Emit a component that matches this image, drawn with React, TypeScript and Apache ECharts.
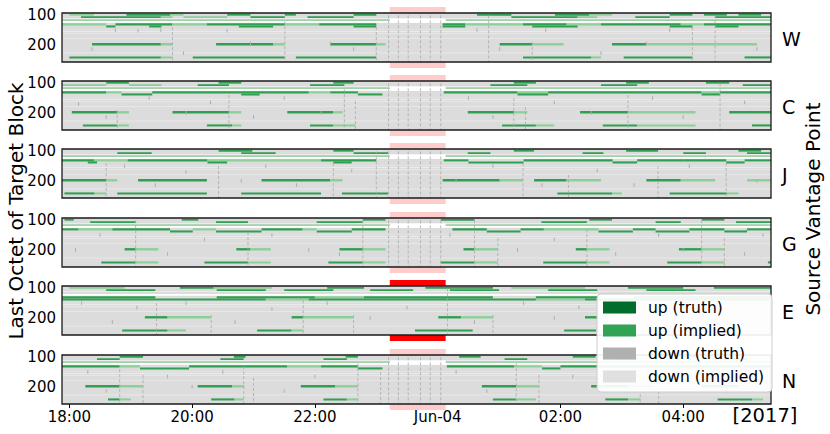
import React, { useEffect, useRef } from "react";
import * as echarts from "echarts";

// ---- axes ----
const X_MIN = -0.12; // hours after 18:00 (17:53)
const X_MAX = 11.43; // 05:26
const X_TICKS = [0, 2, 4, 6, 8, 10];
const X_LABELS = ["18:00", "20:00", "22:00", "Jun-04", "02:00", "04:00"];
const Y_MIN = 92;
const Y_MAX = 258;
const Y_TICKS = [100, 200];
const PANELS = ["W", "C", "J", "G", "E", "N"];
const OUTAGE = [5.22, 6.13];
const OUTAGE_PANEL = "E";
const YEAR_LABEL = "[2017]";
const Y_TITLE = "Last Octet of Target Block";
const R_TITLE = "Source Vantage Point";
const LEGEND_ITEMS = ["up (truth)", "up (implied)", "down (truth)", "down (implied)"];

// ---- row octet ranges ----
const ROW_A = [95, 101];
const ROW_B = [103, 109];
const ROW_LIGHT = [114, 118];
const ROW_WHITE = [119, 125];
const ROW_T1 = [127, 134];
const ROW_T2 = [134, 141];
const ROW_M = [194, 202];
const ROW_LO = [239, 246];
const BAND_WHITE = [111, 125];
const STRIPES = [[110, 112], [146, 147], [154, 156], [161, 162], [177, 178], [227, 228]];
const LIGHT_LINE = [[-0.12, 5.3], [6.1, 11.43]];
const BAND_DASH_T = [5.2, 5.36, 5.52, 5.72, 5.88, 6.05];

// kind: 0 up truth, 1 up implied, 2 up implied (faded)
// ---- W ----
const W_A = [[0.0, 0.4, 2], [0.93, 1.64, 1], [1.64, 1.86, 2], [2.57, 2.95, 1], [3.51, 3.69, 1], [4.63, 5.0, 1], [6.64, 7.2, 1], [7.91, 8.47, 1], [8.47, 8.84, 2], [9.78, 10.15, 1], [10.34, 10.71, 1], [10.9, 11.27, 1]];
const W_B = [[0.19, 1.49, 1], [1.49, 1.68, 2], [1.86, 2.57, 2], [2.95, 3.51, 1], [3.88, 4.63, 1], [7.2, 8.28, 1], [8.28, 8.6, 2], [9.22, 9.78, 1], [10.52, 11.43, 1]];
const W_T1 = [[-0.12, 0.6, 2], [0.75, 1.68, 1], [1.68, 2.24, 2], [2.24, 3.51, 1], [3.51, 4.07, 2], [4.07, 5.0, 1], [6.08, 6.45, 1], [6.45, 7.39, 2], [7.39, 8.1, 1], [8.1, 8.66, 2], [8.66, 9.96, 1], [9.96, 10.34, 2], [10.34, 11.43, 1]];
const W_T2 = [[0.6, 0.75, 1], [1.3, 1.5, 1], [2.76, 3.32, 1], [4.63, 5.0, 1], [6.08, 6.45, 1], [7.54, 8.28, 1], [9.78, 10.15, 1], [10.52, 10.9, 1]];
const W_M = [[0.37, 1.49, 1], [1.49, 1.68, 2], [2.39, 3.32, 1], [3.32, 3.51, 2], [4.25, 5.0, 1], [5.0, 5.15, 2], [7.01, 7.54, 1], [7.54, 8.05, 2], [8.84, 9.4, 1], [9.4, 10.52, 2], [10.52, 11.2, 2]];
const W_LO = [[0.0, 1.49, 1], [1.49, 1.68, 2], [2.01, 3.51, 1], [3.69, 5.0, 1], [7.39, 8.5, 1], [8.5, 8.66, 2], [9.03, 10.15, 1], [11.0, 11.43, 1]];
const W_DASH = [[1.68, 140, 258], [3.51, 120, 258], [5.0, 140, 258], [6.83, 100, 258], [7.54, 190, 258], [10.15, 140, 258], [10.52, 100, 258]];
const W_TICK = [[0.37, 214], [0.75, 150], [1.12, 152], [1.49, 150], [1.86, 228], [2.57, 152], [2.95, 195], [4.25, 195], [4.63, 214], [6.64, 150], [7.01, 214], [7.76, 150], [8.66, 228], [9.4, 195], [9.78, 150], [11.2, 214]];

// ---- C ----
const C_A = [[0.6, 0.97, 1], [2.43, 2.8, 1], [4.3, 4.63, 1], [7.24, 7.6, 1], [9.07, 9.44, 1], [10.37, 10.75, 1]];
const C_B = [[-0.12, 0.6, 2], [0.97, 1.5, 2], [2.09, 2.6, 1], [3.92, 4.48, 1], [6.86, 7.46, 1], [8.66, 9.25, 1], [10.97, 11.43, 1]];
const C_T1 = [[-0.12, 0.6, 1], [0.6, 0.85, 2], [1.35, 3.9, 1], [3.9, 4.25, 2], [4.25, 4.7, 1], [6.1, 7.3, 1], [7.3, 7.8, 2], [7.8, 10.3, 1], [10.3, 10.6, 2], [10.6, 11.43, 1]];
const C_T2 = [[0.85, 1.35, 1], [2.8, 3.1, 1], [4.7, 5.1, 1], [7.3, 7.8, 1], [10.3, 10.6, 1]];
const C_M = [[0.04, 0.78, 1], [0.78, 0.97, 2], [1.68, 2.6, 1], [2.6, 2.8, 2], [3.55, 4.3, 1], [4.3, 4.45, 2], [6.49, 7.24, 1], [7.24, 7.46, 2], [8.32, 9.1, 1], [9.1, 10.2, 2], [10.75, 11.43, 1]];
const C_LO = [[0.22, 0.78, 1], [0.78, 0.97, 2], [2.24, 2.65, 1], [2.65, 2.8, 2], [3.92, 4.3, 1], [4.3, 4.66, 2], [7.05, 7.6, 1], [7.6, 7.9, 2], [8.69, 9.25, 1], [9.25, 10.2, 2], [11.12, 11.43, 1]];
const C_DASH = [[0.78, 190, 258], [2.6, 140, 258], [4.48, 120, 258], [4.66, 160, 258], [7.24, 150, 258], [7.43, 180, 258], [9.1, 140, 258], [10.6, 100, 258]];
const C_TICK = [[0.15, 170], [0.6, 214], [1.3, 150], [1.9, 200], [2.3, 165], [3.0, 214], [3.5, 150], [4.1, 200], [6.5, 150], [6.9, 214], [7.9, 165], [8.5, 200], [9.5, 150], [10.0, 214], [11.0, 165]];

// ---- J ----
const J_A = [[2.43, 2.98, 1], [4.3, 4.63, 1], [7.24, 7.57, 1], [9.07, 9.59, 1], [10.9, 11.27, 1]];
const J_B = [[0.78, 1.34, 1], [2.8, 3.36, 1], [4.63, 5.19, 1], [6.49, 6.86, 1], [8.36, 8.7, 1], [10.0, 10.37, 1], [11.04, 11.43, 1]];
const J_T1 = [[-0.12, 0.4, 1], [0.4, 0.95, 2], [0.95, 2.25, 1], [2.25, 4.1, 2], [4.1, 5.0, 1], [6.1, 6.5, 1], [7.4, 8.85, 1], [9.25, 10.0, 1], [10.0, 10.7, 1], [11.0, 11.43, 1]];
const J_T2 = [[0.3, 0.45, 1], [2.25, 2.57, 1], [4.3, 4.6, 1], [6.5, 7.4, 1], [8.85, 9.25, 1], [10.7, 11.0, 1]];
const J_M = [[-0.12, 0.6, 1], [0.6, 0.78, 2], [1.12, 2.24, 1], [3.13, 4.25, 1], [4.25, 4.45, 2], [6.08, 7.01, 1], [7.01, 7.39, 2], [7.57, 8.1, 1], [8.1, 8.66, 2], [9.4, 9.96, 1], [9.96, 10.52, 2], [11.04, 11.43, 2]];
const J_LO = [[-0.08, 0.41, 1], [0.41, 0.6, 2], [0.78, 2.24, 1], [2.8, 4.1, 1], [4.44, 5.19, 1], [7.95, 8.84, 1], [8.84, 9.0, 2], [9.78, 10.71, 1], [10.71, 10.9, 2]];
const J_DASH = [[0.6, 140, 258], [2.43, 150, 258], [4.3, 140, 258], [5.0, 100, 258], [7.39, 140, 258], [8.13, 180, 258], [9.59, 150, 258], [10.7, 140, 258]];
const J_TICK = [[0.9, 150], [1.4, 214], [1.9, 170], [2.8, 200], [3.2, 150], [3.7, 214], [4.6, 165], [6.3, 200], [6.9, 150], [7.7, 214], [8.6, 165], [9.2, 214], [10.1, 150], [11.2, 200]];

// ---- G ----
const G_A = [[-0.08, 0.07, 1], [1.83, 2.1, 1], [4.78, 5.15, 1], [6.05, 6.6, 1], [8.47, 8.84, 1], [10.3, 10.67, 1]];
const G_B = [[0.34, 1.08, 1], [2.39, 2.91, 1], [4.03, 4.78, 1], [7.69, 8.43, 1], [9.55, 9.96, 1], [10.86, 11.43, 1]];
const G_T1 = [[-0.12, 0.15, 1], [0.15, 0.7, 2], [0.7, 1.64, 1], [2.01, 2.39, 2], [3.13, 3.8, 1], [3.8, 4.03, 2], [4.6, 5.15, 1], [6.24, 6.8, 1], [7.35, 7.73, 1], [7.73, 8.62, 2], [9.18, 9.55, 1], [10.1, 10.67, 1], [11.04, 11.43, 1]];
const G_T2 = [[1.64, 2.01, 1], [2.39, 3.13, 1], [4.03, 4.6, 1], [6.8, 7.35, 1], [8.62, 9.18, 1], [9.55, 10.1, 1], [10.67, 11.04, 1]];
const G_M = [[0.9, 1.08, 1], [1.08, 1.45, 2], [2.72, 2.95, 1], [2.95, 3.28, 2], [4.4, 4.78, 1], [4.78, 5.15, 2], [6.42, 6.6, 1], [6.6, 6.98, 2], [8.25, 8.43, 1], [8.43, 8.8, 2], [9.93, 10.3, 1], [10.3, 10.67, 2]];
const G_LO = [[0.52, 1.08, 1], [1.08, 1.45, 2], [2.2, 2.91, 1], [2.91, 3.28, 2], [4.22, 4.78, 1], [4.78, 5.15, 2], [6.05, 6.6, 1], [6.6, 6.98, 2], [7.72, 8.43, 1], [8.43, 8.8, 2], [9.74, 10.3, 1], [10.3, 10.67, 2], [11.38, 11.43, 1]];
const G_DASH = [[1.08, 100, 258], [2.91, 140, 258], [4.78, 100, 258], [6.6, 100, 258], [6.98, 160, 258], [8.43, 130, 258], [10.3, 100, 258], [10.67, 160, 258]];
const G_TICK = [[0.1, 200], [0.5, 150], [1.6, 214], [2.2, 165], [3.3, 150], [3.9, 200], [4.4, 214], [6.2, 150], [7.3, 200], [7.9, 165], [8.9, 214], [9.6, 150], [10.0, 200], [11.0, 214], [11.3, 150]];

// ---- E ----
const E_A = [[0.0, 0.9, 2], [1.8, 2.35, 1], [2.35, 3.3, 2], [4.2, 4.8, 1], [5.8, 6.9, 1], [7.2, 8.4, 2], [9.1, 10.0, 1], [10.5, 11.43, 1]];
const E_B = [[0.6, 1.4, 1], [2.4, 3.2, 1], [3.5, 4.3, 1], [4.9, 5.6, 1], [6.2, 7.0, 1], [7.8, 8.6, 1], [9.4, 10.2, 1]];
const E_T1 = [[-0.12, 1.4, 1], [2.4, 4.0, 1], [4.0, 4.8, 2], [4.8, 6.9, 1], [7.6, 8.6, 1], [9.2, 11.43, 1]];
const E_T2 = [[-0.12, 3.2, 1], [3.2, 3.9, 2], [3.9, 7.6, 1], [7.6, 8.4, 2], [8.4, 11.43, 1]];
const E_M = [[1.23, 1.6, 1], [1.6, 2.31, 2], [3.62, 3.81, 1], [3.81, 4.63, 2], [6.01, 6.38, 1], [6.38, 6.9, 2], [8.4, 8.62, 1], [8.62, 8.8, 2]];
const E_LO = [[0.86, 1.6, 1], [1.6, 1.9, 2], [3.06, 3.62, 1], [3.62, 3.81, 2], [5.63, 6.57, 1], [8.06, 8.58, 1]];
const E_DASH = [[1.42, 150, 258], [2.31, 190, 258], [3.81, 140, 258], [4.63, 190, 258], [6.16, 100, 258], [6.9, 190, 258], [8.62, 140, 258]];
const E_TICK = [[0.2, 150], [0.7, 214], [1.1, 165], [1.9, 150], [2.7, 214], [3.3, 170], [4.2, 150], [4.9, 200], [5.5, 165], [6.6, 214], [7.4, 150], [7.9, 200], [8.3, 165]];

// ---- N ----
const N_A = [[0.82, 1.2, 1], [2.68, 2.87, 1], [4.5, 4.7, 1], [6.35, 6.7, 1], [8.2, 8.57, 1], [10.07, 10.26, 1]];
const N_B = [[0.45, 0.82, 1], [2.46, 2.84, 1], [4.14, 4.52, 1], [7.09, 7.46, 1], [8.88, 9.25, 1], [10.67, 11.04, 1]];
const N_T1 = [[-0.12, 0.82, 1], [0.82, 1.15, 2], [1.95, 3.55, 1], [3.55, 4.1, 2], [4.1, 4.7, 1], [6.15, 7.25, 1], [7.25, 7.7, 2], [8.0, 11.43, 1]];
const N_T2 = [[1.15, 1.95, 1], [4.7, 5.1, 1], [7.7, 8.0, 1]];
const N_M = [[0.26, 0.82, 1], [0.82, 1.2, 2], [2.09, 2.65, 1], [2.65, 2.85, 2], [3.77, 4.33, 1], [4.33, 4.7, 2], [6.72, 7.28, 1], [7.28, 7.65, 2], [8.5, 9.1, 1], [9.1, 9.5, 2], [10.3, 10.9, 1]];
const N_LO = [[0.63, 0.82, 1], [0.82, 1.0, 2], [2.31, 2.69, 1], [2.69, 2.84, 2], [4.14, 4.52, 1], [4.52, 4.7, 2], [6.9, 7.28, 1], [7.28, 7.6, 2], [8.73, 9.1, 1], [9.1, 9.3, 2], [10.56, 11.12, 1], [11.12, 11.3, 2]];
const N_DASH = [[0.82, 140, 258], [1.2, 160, 258], [2.84, 130, 258], [3.0, 170, 258], [4.7, 120, 258], [5.07, 150, 258], [7.28, 120, 258], [7.65, 160, 258], [9.3, 140, 258], [9.6, 180, 258]];
const N_TICK = [[0.3, 150], [0.6, 214], [1.6, 165], [2.0, 200], [2.5, 150], [3.5, 214], [4.0, 165], [6.3, 150], [6.8, 214], [8.2, 165], [8.7, 200], [10.2, 150], [10.7, 214]];

// ---- styling ----
const FONT = "DejaVu Sans";
const GRID_LEFT = 62;
const GRID_W = 709;
const PANEL_TOPS = [13, 81, 149, 218, 286, 355];
const PANEL_H = 49;
const COLORS = ["#006d2c", "#2f9f50", "#8ccf99", "#dcdcdc", "#f1f1f1", "#ffffff"];
const LEGEND_COLORS = ["#006d2c", "#31a354", "#b0b0b0", "#e0e0e0"];
const K_BG = 3, K_STRIPE = 4, K_WHITE = 5, K_LIGHT = 2;

const PANEL_DATA: Record<string, any> = {
  W: { A: W_A, B: W_B, T1: W_T1, T2: W_T2, M: W_M, LO: W_LO, dash: W_DASH, tick: W_TICK },
  C: { A: C_A, B: C_B, T1: C_T1, T2: C_T2, M: C_M, LO: C_LO, dash: C_DASH, tick: C_TICK },
  J: { A: J_A, B: J_B, T1: J_T1, T2: J_T2, M: J_M, LO: J_LO, dash: J_DASH, tick: J_TICK },
  G: { A: G_A, B: G_B, T1: G_T1, T2: G_T2, M: G_M, LO: G_LO, dash: G_DASH, tick: G_TICK },
  E: { A: E_A, B: E_B, T1: E_T1, T2: E_T2, M: E_M, LO: E_LO, dash: E_DASH, tick: E_TICK },
  N: { A: N_A, B: N_B, T1: N_T1, T2: N_T2, M: N_M, LO: N_LO, dash: N_DASH, tick: N_TICK },
};

function segItems(name: string) {
  const p = PANEL_DATA[name];
  const isOut = name === OUTAGE_PANEL;
  const items: number[][] = [[X_MIN, X_MAX, Y_MIN, Y_MAX, K_BG]];
  STRIPES.forEach(([a, b]) => items.push([X_MIN, X_MAX, a, b, K_STRIPE]));
  items.push([X_MIN, X_MAX, ROW_WHITE[0], ROW_WHITE[1], K_WHITE]);
  if (!isOut) {
    LIGHT_LINE.forEach(([a, b]) => items.push([a, b, ROW_LIGHT[0], ROW_LIGHT[1], K_LIGHT]));
    items.push([OUTAGE[0], OUTAGE[1], BAND_WHITE[0], BAND_WHITE[1], K_WHITE]);
  }
  const rows: [string, number[]][] = [["A", ROW_A], ["B", ROW_B], ["T1", ROW_T1], ["T2", ROW_T2], ["M", ROW_M], ["LO", ROW_LO]];
  rows.forEach(([key, r]) => {
    (p[key] as number[][]).forEach(([t0, t1, k]) => items.push([t0, t1, r[0], r[1], k]));
  });
  return items;
}

function dashItems(name: string) {
  const p = PANEL_DATA[name];
  const items: number[][] = p.dash.map((d: number[]) => d.slice());
  if (name !== OUTAGE_PANEL) BAND_DASH_T.forEach((t) => items.push([t, 100, Y_MAX]));
  return items;
}

function buildOption() {
  const last = PANELS.length - 1;
  const series: any[] = [];
  PANELS.forEach((name, i) => {
    series.push({
      type: "custom",
      xAxisIndex: i,
      yAxisIndex: i,
      clip: false,
      z: 1,
      silent: true,
      encode: { x: [0, 1], y: [2, 3] },
      data: [[OUTAGE[0], OUTAGE[1], Y_MIN, Y_MAX]],
      renderItem: (_p: any, api: any) => {
        const a = api.coord([api.value(0), api.value(2)]);
        const b = api.coord([api.value(1), api.value(3)]);
        return {
          type: "rect",
          shape: { x: a[0], y: a[1] - 6, width: b[0] - a[0], height: b[1] - a[1] + 12 },
          style: { fill: name === OUTAGE_PANEL ? "#ff0000" : "#ffcccc" },
        };
      },
    });
    series.push({
      type: "custom",
      xAxisIndex: i,
      yAxisIndex: i,
      clip: true,
      z: 2,
      silent: true,
      encode: { x: [0, 1], y: [2, 3] },
      data: segItems(name),
      renderItem: (_p: any, api: any) => {
        const a = api.coord([api.value(0), api.value(2)]);
        const b = api.coord([api.value(1), api.value(3)]);
        return {
          type: "rect",
          shape: { x: a[0], y: a[1], width: b[0] - a[0], height: b[1] - a[1] },
          style: { fill: COLORS[api.value(4)] },
        };
      },
    });
    series.push({
      type: "custom",
      xAxisIndex: i,
      yAxisIndex: i,
      clip: true,
      z: 3,
      silent: true,
      encode: { x: 0, y: [1, 2] },
      data: dashItems(name),
      renderItem: (_p: any, api: any) => {
        const a = api.coord([api.value(0), api.value(1)]);
        const b = api.coord([api.value(0), api.value(2)]);
        return {
          type: "line",
          shape: { x1: a[0], y1: a[1], x2: b[0], y2: b[1] },
          style: { stroke: "#a9a9a9", lineWidth: 0.8, lineDash: [3, 2] },
        };
      },
    });
    series.push({
      type: "custom",
      xAxisIndex: i,
      yAxisIndex: i,
      clip: true,
      z: 3,
      silent: true,
      encode: { x: 0, y: 1 },
      data: PANEL_DATA[name].tick,
      renderItem: (_p: any, api: any) => {
        const a = api.coord([api.value(0), api.value(1) - 6]);
        const b = api.coord([api.value(0), api.value(1) + 6]);
        return {
          type: "line",
          shape: { x1: a[0], y1: a[1], x2: b[0], y2: b[1] },
          style: { stroke: "#adadad", lineWidth: 1 },
        };
      },
    });
  });

  const graphic: any[] = [];
  PANEL_TOPS.forEach((top, i) => {
    graphic.push({
      type: "rect",
      z: 100,
      silent: true,
      shape: { x: GRID_LEFT, y: top, width: GRID_W, height: PANEL_H },
      style: { fill: "none", stroke: "#1a1a1a", lineWidth: 1.3 },
    });
    graphic.push({
      type: "text",
      z: 100,
      x: 782,
      y: top + PANEL_H / 2 + 1,
      style: { text: PANELS[i], fontSize: 19, fontFamily: FONT, fill: "#000", align: "left", verticalAlign: "middle" },
    });
  });
  graphic.push({
    type: "text",
    z: 100,
    x: 16,
    y: 211,
    rotation: Math.PI / 2,
    style: { text: Y_TITLE, fontSize: 20, fontFamily: FONT, fill: "#000", align: "center", verticalAlign: "middle" },
  });
  graphic.push({
    type: "text",
    z: 100,
    x: 813,
    y: 209,
    rotation: Math.PI / 2,
    style: { text: R_TITLE, fontSize: 20, fontFamily: FONT, fill: "#000", align: "center", verticalAlign: "middle" },
  });
  graphic.push({
    type: "text",
    z: 100,
    x: 765,
    y: 415,
    style: { text: YEAR_LABEL, fontSize: 19.5, fontFamily: FONT, fill: "#000", align: "center", verticalAlign: "middle" },
  });
  // legend
  graphic.push({
    type: "rect",
    z: 110,
    shape: { x: 597, y: 294, width: 175, height: 98, r: 4 },
    style: { fill: "rgba(255,255,255,0.92)", stroke: "#cccccc", lineWidth: 1 },
  });
  LEGEND_ITEMS.forEach((label, k) => {
    const cy = 307.5 + k * 23;
    graphic.push({
      type: "rect",
      z: 111,
      shape: { x: 603, y: cy - 6, width: 33, height: 12 },
      style: { fill: LEGEND_COLORS[k] },
    });
    graphic.push({
      type: "text",
      z: 111,
      x: 648,
      y: cy,
      style: { text: label, fontSize: 15.5, fontFamily: FONT, fill: "#000", align: "left", verticalAlign: "middle" },
    });
  });

  return {
    animation: false,
    textStyle: { fontFamily: FONT },
    grid: PANEL_TOPS.map((top) => ({ left: GRID_LEFT, top, width: GRID_W, height: PANEL_H })),
    xAxis: PANELS.map((_, i) => ({
      type: "value",
      gridIndex: i,
      min: X_MIN,
      max: X_MAX,
      axisLine: { show: false },
      splitLine: { show: false },
      axisTick: { show: i === last, customValues: X_TICKS, length: 4, lineStyle: { color: "#000" } },
      axisLabel: {
        show: i === last,
        customValues: X_TICKS,
        fontSize: 15,
        color: "#000",
        margin: 5,
        fontFamily: FONT,
        formatter: (v: number) => {
          const idx = X_TICKS.findIndex((t) => Math.abs(t - v) < 1e-6);
          return idx >= 0 ? X_LABELS[idx] : "";
        },
      },
    })),
    yAxis: PANELS.map((_, i) => ({
      type: "value",
      gridIndex: i,
      inverse: true,
      min: Y_MIN,
      max: Y_MAX,
      axisLine: { show: false },
      splitLine: { show: false },
      axisTick: { show: true, customValues: Y_TICKS, length: 4, lineStyle: { color: "#000" } },
      axisLabel: { show: true, customValues: Y_TICKS, fontSize: 15, color: "#000", margin: 6, fontFamily: FONT },
    })),
    series,
    graphic,
  };
}

export default function App() {
  const ref = useRef<HTMLDivElement>(null);
  useEffect(() => {
    const chart = echarts.init(ref.current!, null, { renderer: "svg" });
    chart.setOption(buildOption() as any);
    return () => chart.dispose();
  }, []);
  return <div ref={ref} style={{ position: "absolute", left: 0, top: 0, width: 830, height: 434 }} />;
}
